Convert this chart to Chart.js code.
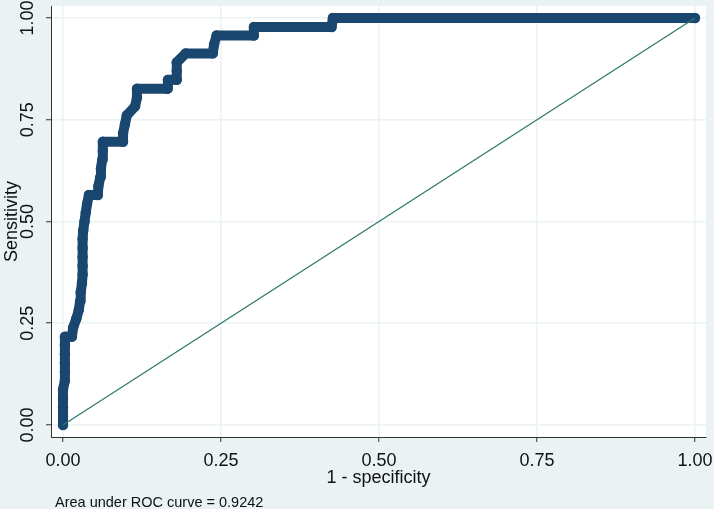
<!DOCTYPE html>
<html><head><meta charset="utf-8">
<script src="https://cdn.jsdelivr.net/npm/chart.js@4/dist/chart.umd.min.js"></script>
<style>html,body{margin:0;padding:0;background:#eaf2f3;}canvas{display:block;}</style>
</head><body>
<canvas id="c" width="714" height="509"></canvas>
<script>
// ROC curve vertices: 1 - specificity (x) and sensitivity (y)
const fprValues = [0, 0, 0, 0, 0, 0.003, 0.003, 0.003, 0.003, 0.003, 0.003, 0.014,
  0.016, 0.021, 0.025, 0.027, 0.028, 0.030, 0.031, 0.031, 0.031, 0.031, 0.031, 0.032,
  0.034, 0.036, 0.038, 0.041, 0.055, 0.056, 0.059, 0.060, 0.062, 0.063, 0.063, 0.095,
  0.095, 0.098, 0.101, 0.114, 0.117, 0.117, 0.165, 0.166, 0.180, 0.180, 0.180, 0.194,
  0.237, 0.239, 0.243, 0.302, 0.302, 0.425, 0.427, 1.000];
const sensValues = [0, 0.022, 0.043, 0.065, 0.087, 0.109, 0.130, 0.152, 0.174, 0.196, 0.217, 0.217,
  0.239, 0.261, 0.283, 0.304, 0.326, 0.348, 0.370, 0.391, 0.413, 0.435, 0.457, 0.478,
  0.500, 0.522, 0.543, 0.565, 0.565, 0.587, 0.609, 0.630, 0.652, 0.674, 0.696, 0.696,
  0.717, 0.739, 0.761, 0.783, 0.804, 0.826, 0.826, 0.848, 0.848, 0.870, 0.891, 0.913,
  0.913, 0.935, 0.957, 0.957, 0.978, 0.978, 1.000, 1.000];
const refX = [0, 1];
const refY = [0, 1];
const tickValues = [0, 0.25, 0.5, 0.75, 1];
const tickLabels = ['0.00', '0.25', '0.50', '0.75', '1.00'];
const xTitle = '1 - specificity';
const yTitle = 'Sensitivity';
const noteText = 'Area under ROC curve = 0.9242';

const FONT = "'Liberation Sans', Arial, sans-serif";
const rocPoints = fprValues.map((x, i) => ({x: x, y: sensValues[i]}));
const refPoints = refX.map((x, i) => ({x: x, y: refY[i]}));

const bgPlugin = {
  id: 'bg',
  beforeDraw(chart) {
    const {ctx, chartArea: a} = chart;
    ctx.save();
    ctx.fillStyle = '#eaf2f3';
    ctx.fillRect(0, 0, chart.width, chart.height);
    ctx.fillStyle = '#ffffff';
    ctx.fillRect(a.left, a.top, a.right - a.left, a.bottom - a.top);
    ctx.restore();
  },
  afterDraw(chart) {
    const ctx = chart.ctx;
    ctx.save();
    ctx.fillStyle = '#111111';
    ctx.font = "14.5px " + FONT;
    ctx.textBaseline = 'alphabetic';
    ctx.textAlign = 'left';
    ctx.fillText(noteText, 55, 507);
    ctx.restore();
  }
};

const setTicks = s => { s.ticks = tickValues.map(v => ({value: v})); };
const noPad = s => { s.paddingLeft = 0; s.paddingRight = 0; s.paddingTop = 0; s.paddingBottom = 0; };

new Chart(document.getElementById('c'), {
  type: 'scatter',
  data: {
    datasets: [
      {
        data: refPoints, showLine: true, borderColor: '#2f7a6b', borderWidth: 1.3,
        pointRadius: 0, fill: false
      },
      {
        data: rocPoints, showLine: true, borderColor: '#1a476f', borderWidth: 10,
        borderJoinStyle: 'round', borderCapStyle: 'round',
        pointRadius: 5.2, pointBackgroundColor: '#1a476f', pointBorderWidth: 0,
        pointHoverRadius: 5.2, fill: false
      }
    ]
  },
  options: {
    responsive: false, animation: false, devicePixelRatio: 1,
    layout: {padding: {top: 6, right: 8, left: 0, bottom: 0}, autoPadding: false},
    plugins: {legend: {display: false}, tooltip: {enabled: false}},
    scales: {
      x: {
        type: 'linear', min: -0.019, max: 1.0174,
        afterBuildTicks: setTicks,
        afterFit: s => { s.height = 72; noPad(s); },
        grid: {color: '#eaf2f3', lineWidth: 1.5, tickColor: '#333333', tickLength: 5, tickWidth: 1},
        border: {color: '#333333', width: 1},
        ticks: {font: {size: 18, family: FONT}, color: '#111111', padding: 8, maxRotation: 0,
                autoSkip: false, callback: (v, i) => tickLabels[i]},
        title: {display: true, text: xTitle, font: {size: 18, family: FONT}, color: '#111111',
                padding: {top: 0, bottom: 20}}
      },
      y: {
        type: 'linear', min: -0.0295, max: 1.0295,
        afterBuildTicks: setTicks,
        afterFit: s => { s.width = 51; noPad(s); },
        grid: {color: '#eaf2f3', lineWidth: 1.5, tickColor: '#333333', tickLength: 5, tickWidth: 1},
        border: {color: '#333333', width: 1},
        ticks: {font: {size: 18, family: FONT}, color: '#111111', padding: 0, minRotation: 90,
                maxRotation: 90, crossAlign: 'center', autoSkip: false,
                callback: (v, i) => tickLabels[i]},
        title: {display: true, text: yTitle, font: {size: 18, family: FONT}, color: '#111111',
                padding: {top: 1, bottom: 0}}
      }
    }
  },
  plugins: [bgPlugin]
});
</script>
</body></html>
